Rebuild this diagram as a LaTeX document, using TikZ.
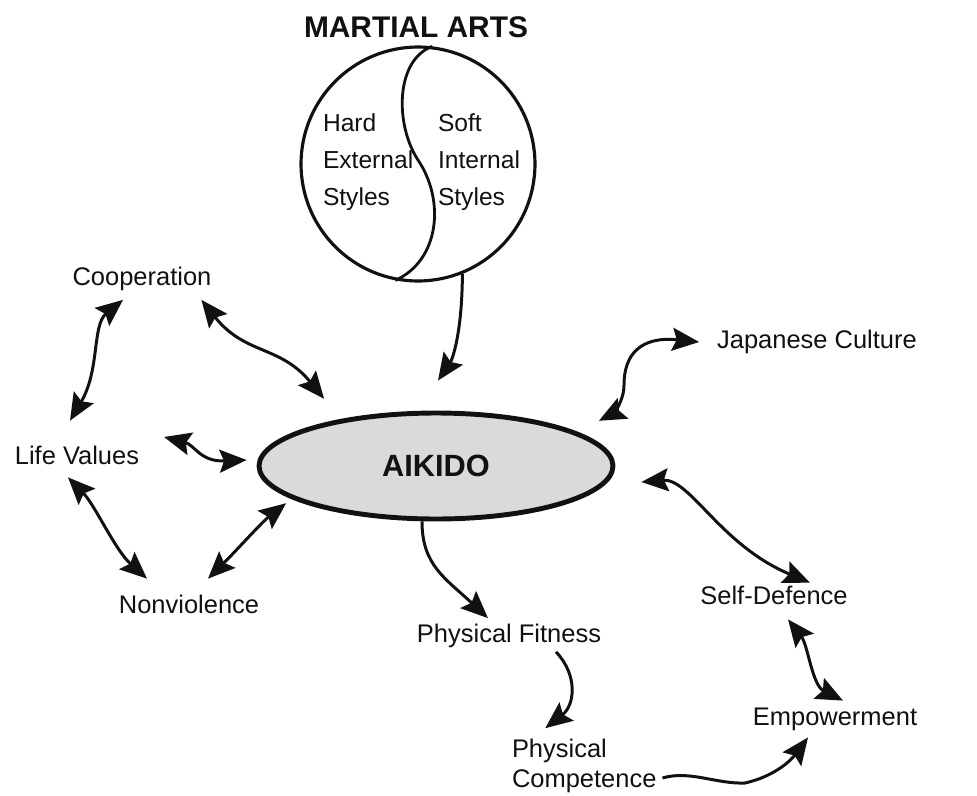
\documentclass[tikz,border=0pt]{standalone}
\usepackage{fontspec}
\setmainfont{Liberation Sans}
\usetikzlibrary{arrows.meta,shapes.geometric}
\definecolor{ScanInk}{HTML}{111111}
\definecolor{ScanStipple}{HTML}{DADADA}
\tikzset{
  every node/.style={font=\fontsize{14.5}{17}\selectfont, text=ScanInk},
  term/.style={inner sep=0pt, outer sep=0pt},
  stack/.style={term, align=left, anchor=west},
  ring/.style={circle, draw=ScanInk, line width=1.8pt, inner sep=0pt, minimum size=4.68cm},
  core/.style={ellipse, draw=ScanInk, line width=2.8pt, fill=ScanStipple, inner sep=0pt,
    minimum width=7.08cm, minimum height=2.12cm, font=\bfseries\fontsize{17.5}{21}\selectfont},
  oneway/.style={-{Stealth[length=5.4mm,width=4.6mm,inset=0.9mm]}, draw=ScanInk, line width=1.7pt},
  twoway/.style={{Stealth[length=5.4mm,width=4.6mm,inset=0.9mm]}-{Stealth[length=5.4mm,width=4.6mm,inset=0.9mm]}, draw=ScanInk, line width=1.7pt},
}

\begin{document}
\begin{tikzpicture}[x=0.02cm,y=-0.02cm]
  % Frame: one unit = one pixel of the 977 x 795 sheet, y downwards
  \useasboundingbox (0,0) rectangle (977,795);
  % Martial arts ring split into two styles
  \node[font=\bfseries\fontsize{17}{20}\selectfont] (title) at (416,27) {MARTIAL ARTS};
  \node[ring] (martial) at (418,164) {};
  \draw[draw=ScanInk, line width=1.6pt] (martial.83) .. controls (395,60) and (395,125) .. (418,160)
    .. controls (445,200) and (440,260) .. (martial.259);
  \node[stack, font=\fontsize{14}{21}\selectfont] (hard) at (323,162) {Hard\\External\\Styles};
  \node[stack, font=\fontsize{14}{21}\selectfont] (soft) at (438,162) {Soft\\Internal\\Styles};
  % Centre
  \node[core] (aikido) at (436,466) {AIKIDO};
  % Outer terms
  \node[term] (coop) at (142,279) {Cooperation};
  \node[term] (life) at (77,455) {Life Values};
  \node[term] (nonv) at (189,604) {Nonviolence};
  \node[term] (japan) at (817,342) {Japanese Culture};
  \node[term] (selfd) at (774,595) {Self-Defence};
  \node[term] (fitness) at (509,636) {Physical Fitness};
  \node[stack] (compet) at (512,766) {Physical\\Competence};
  \node[term] (empow) at (835,719) {Empowerment};
  % Links
  \draw[oneway] (martial.292) .. controls (462,335) and (452,360) .. ([shift={(2,-30)}]aikido.north);
  \draw[twoway] ([shift={(-19,9)}]coop.south) .. controls (92,325) and (100,370) .. ([shift={(-7,-25)}]life.north);
  \draw[twoway] ([shift={(-10,9)}]coop.south east) .. controls (245,355) and (280,345) .. ([shift={(15,-28)}]aikido.north west);
  \draw[twoway] ([shift={(25,-18)}]life.east) .. controls (195,445) and (200,462) .. ([shift={(-10,-6)}]aikido.west);
  \draw[twoway] ([shift={(-9,13)}]life.south) .. controls (95,505) and (115,550) .. ([shift={(-42,-16)}]nonv.north);
  \draw[twoway] ([shift={(19,-16)}]nonv.north) .. controls (235,552) and (262,522) .. ([shift={(-23,-2)}]aikido.south west);
  \draw[twoway] ([shift={(-18,0)}]japan.west) .. controls (640,336) and (624,355) .. (624,385)
    .. controls (624,402) and (612,414) .. ([shift={(36,-6)}]aikido.north east);
  \draw[twoway] ([shift={(26,16)}]aikido.east) .. controls (690,478) and (720,545) .. ([shift={(36,-3)}]selfd.north);
  \draw[oneway] ([shift={(-14,0)}]aikido.south) .. controls (422,565) and (445,578) .. ([shift={(-21,-6)}]fitness.north);
  \draw[oneway] ([shift={(47,4)}]fitness.south) .. controls (578,675) and (575,705) .. ([shift={(-39,-11)}]compet.north);
  \draw[oneway] ([shift={(6,12)}]compet.east) .. controls (690,770) and (715,784) .. (745,783)
    .. controls (780,775) and (795,755) .. ([shift={(-27,7)}]empow.south);
  \draw[twoway] ([shift={(14,15)}]selfd.south) .. controls (808,645) and (812,685) .. ([shift={(8,-7)}]empow.north);
\end{tikzpicture}
\end{document}
